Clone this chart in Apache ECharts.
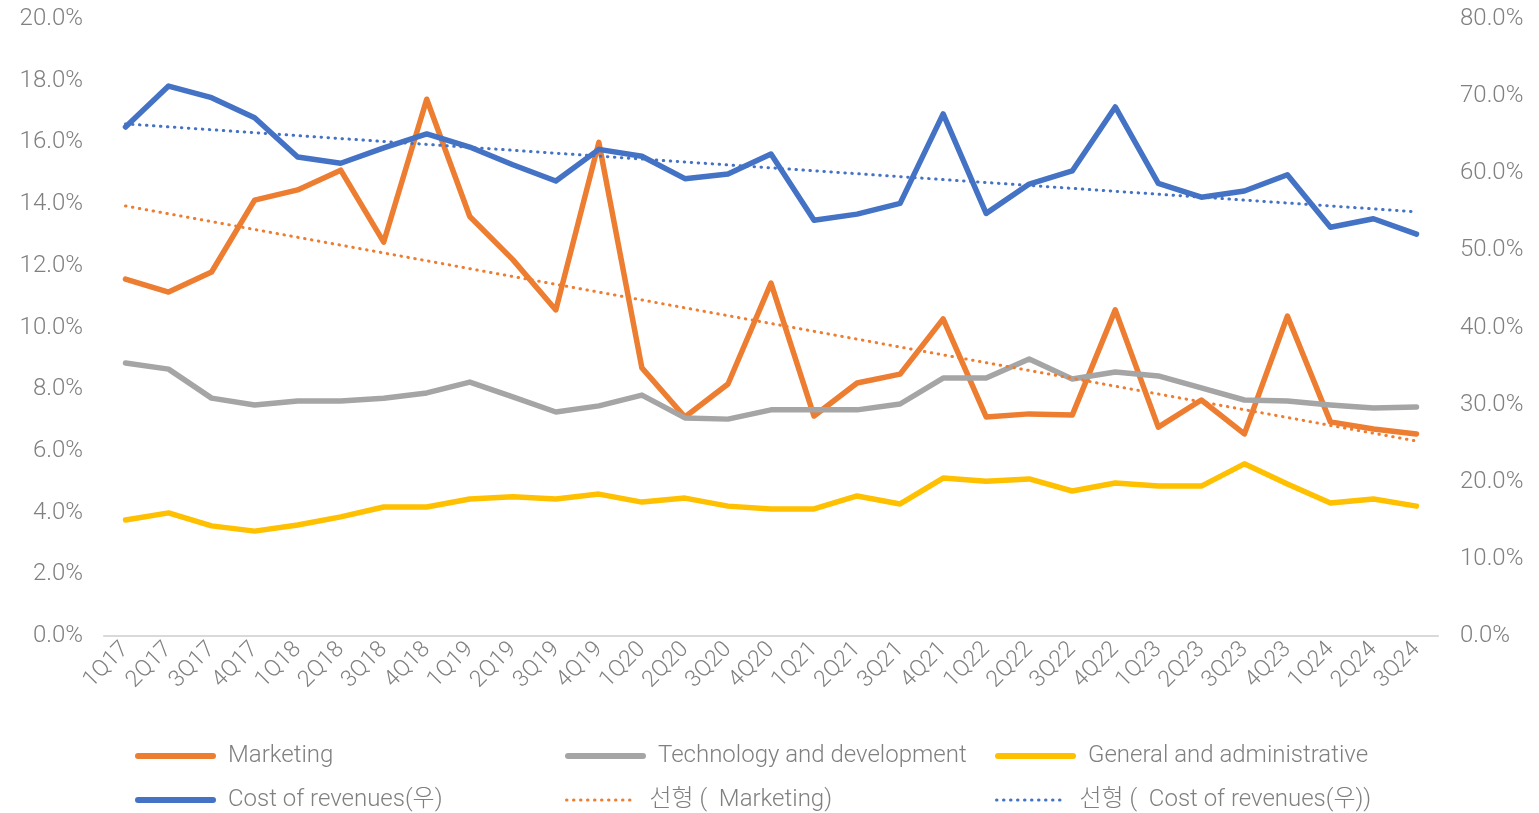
<!DOCTYPE html>
<html>
<head>
<meta charset="utf-8">
<script src="https://cdn.jsdelivr.net/npm/echarts@6/dist/echarts.min.js"></script>
<style>
  html, body { margin: 0; padding: 0; background: #fff; }
  #chart { width: 1539px; height: 813px; }
</style>
</head>
<body>
<div id="chart"></div>
<script>
// 분기
var quarters = ['1Q17', '2Q17', '3Q17', '4Q17', '1Q18', '2Q18', '3Q18', '4Q18',
  '1Q19', '2Q19', '3Q19', '4Q19', '1Q20', '2Q20', '3Q20', '4Q20',
  '1Q21', '2Q21', '3Q21', '4Q21', '1Q22', '2Q22', '3Q22', '4Q22',
  '1Q23', '2Q23', '3Q23', '4Q23', '1Q24', '2Q24', '3Q24'];

// 좌축 (%)
var marketing = [11.57, 11.15, 11.8, 14.13, 14.46, 15.1, 12.77, 17.4,
  13.6, 12.2, 10.57, 16.0, 8.69, 7.1, 8.17, 11.44,
  7.13, 8.2, 8.49, 10.28, 7.1, 7.2, 7.16, 10.57,
  6.77, 7.65, 6.55, 10.37, 6.94, 6.71, 6.55];
var techDev = [8.85, 8.65, 7.71, 7.49, 7.62, 7.62, 7.71, 7.88,
  8.23, 7.75, 7.26, 7.46, 7.81, 7.07, 7.03, 7.33,
  7.33, 7.33, 7.52, 8.36, 8.36, 8.98, 8.33, 8.56,
  8.43, 8.04, 7.65, 7.62, 7.49, 7.39, 7.42];
var genAdmin = [3.76, 3.99, 3.57, 3.40, 3.60, 3.86, 4.18, 4.18,
  4.44, 4.51, 4.44, 4.60, 4.34, 4.47, 4.21, 4.12,
  4.12, 4.54, 4.28, 5.12, 5.02, 5.09, 4.70, 4.96,
  4.86, 4.86, 5.58, 4.93, 4.31, 4.44, 4.21];

// 우축 (%)
var costRev = [66.0, 71.3, 69.8, 67.2, 62.1, 61.3, 63.3, 65.1,
  63.4, 61.1, 59.0, 63.1, 62.2, 59.3, 59.9, 62.5,
  53.9, 54.7, 56.1, 67.7, 54.8, 58.6, 60.3, 68.6,
  58.7, 56.9, 57.7, 59.8, 53.0, 54.1, 52.1];

// 추세선 시작/끝
var mktTrend = [[0, 13.94], [30, 6.32]];
var costTrend = [[0, 66.4], [30, 55.0]];

var leftTicks = { min: 0, max: 20, interval: 2 };
var rightTicks = { min: 0, max: 80, interval: 10 };

var names = ['Marketing', 'Technology and development', 'General and administrative',
  'Cost of revenues(우)', '선형 (  Marketing)', '선형 (  Cost of revenues(우))'];

var FONT = 'Roboto, "Noto Sans CJK KR", sans-serif';
var GREY = '#808080';

var chart = echarts.init(document.getElementById('chart'));

function legendAt(name, left, top, w, lw) {
  return {
    data: [name],
    left: left,
    top: top,
    padding: 0,
    itemWidth: w,
    itemHeight: 14,
    itemStyle: { opacity: 0 },
    lineStyle: { width: lw, cap: 'round' },
    textStyle: { fontFamily: FONT, fontSize: 24, fontWeight: 300, color: GREY, padding: [0, 0, 0, 10] }
  };
}

function solid(name, data, color, yIdx) {
  return {
    name: name,
    type: 'line',
    yAxisIndex: yIdx,
    data: data,
    symbol: 'none',
    lineStyle: { width: 5.5, color: color, cap: 'round', join: 'round' },
    itemStyle: { color: color },
    z: 3
  };
}

function dotted(name, data, color, yIdx) {
  return {
    name: name,
    type: 'line',
    yAxisIndex: yIdx,
    data: data,
    symbol: 'none',
    lineStyle: { width: 3, color: color, type: [0.5, 6.5], cap: 'round' },
    itemStyle: { color: color },
    z: 4
  };
}

function tickLabel(margin) {
  return {
    margin: margin,
    fontFamily: FONT,
    fontSize: 24,
    fontWeight: 300,
    color: GREY,
    formatter: function (v) { return v.toFixed(1) + '%'; }
  };
}

var option = {
  animation: false,
  backgroundColor: '#fff',
  grid: { left: 104, right: 101, top: 19, bottom: 177 },
  legend: [
    legendAt(names[0], 135, 744, 75, 6),
    legendAt(names[1], 565, 744, 75, 6),
    legendAt(names[2], 995, 744, 75, 6),
    legendAt(names[3], 135, 788, 75, 6),
    legendAt(names[4], 565, 788, 68, 3),
    legendAt(names[5], 995, 788, 68, 3)
  ],
  xAxis: {
    type: 'category',
    data: quarters,
    boundaryGap: true,
    axisLine: { lineStyle: { color: '#d9d9d9', width: 2 } },
    axisTick: { show: false },
    axisLabel: {
      rotate: 45,
      interval: 0,
      margin: 10,
      fontFamily: FONT,
      fontSize: 23,
      fontWeight: 300,
      color: GREY
    }
  },
  yAxis: [
    {
      type: 'value',
      min: leftTicks.min,
      max: leftTicks.max,
      interval: leftTicks.interval,
      splitLine: { show: false },
      axisLine: { show: false },
      axisTick: { show: false },
      axisLabel: tickLabel(21)
    },
    {
      type: 'value',
      min: rightTicks.min,
      max: rightTicks.max,
      interval: rightTicks.interval,
      splitLine: { show: false },
      axisLine: { show: false },
      axisTick: { show: false },
      axisLabel: tickLabel(22)
    }
  ],
  series: [
    solid(names[0], marketing, '#ED7D31', 0),
    solid(names[1], techDev, '#A5A5A5', 0),
    solid(names[2], genAdmin, '#FFC000', 0),
    solid(names[3], costRev, '#4472C4', 1),
    dotted(names[4], mktTrend, '#ED7D31', 0),
    dotted(names[5], costTrend, '#4472C4', 1)
  ]
};

chart.setOption(option);
</script>
</body>
</html>
